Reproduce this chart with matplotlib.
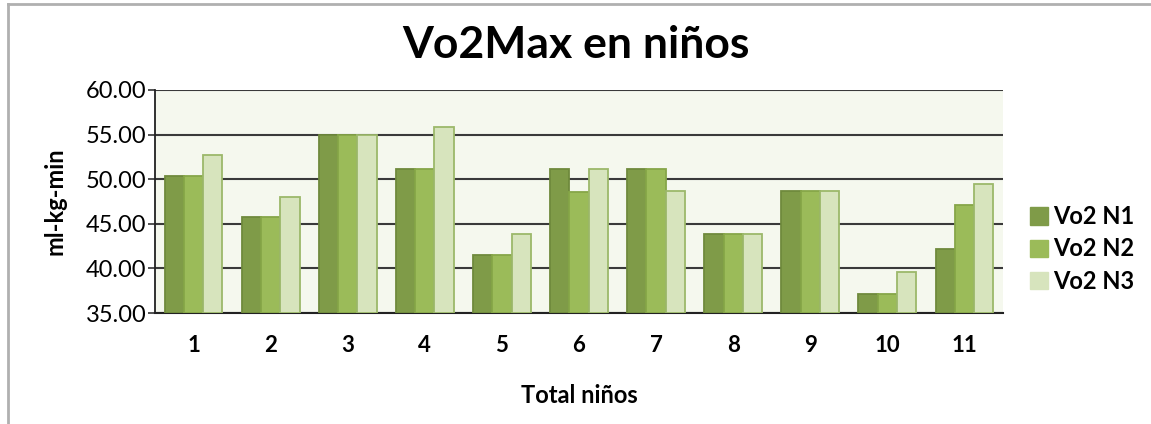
import numpy as np
import matplotlib.pyplot as plt
from matplotlib.patches import Patch
from matplotlib.lines import Line2D

plt.rcParams['font.family'] = ['Lato', 'DejaVu Sans']

# Datos
ninos = ['1', '2', '3', '4', '5', '6', '7', '8', '9', '10', '11']
vo2_n1 = [50.36, 45.73, 55.0, 51.1, 41.5, 51.1, 51.1, 43.86, 48.68, 37.17, 42.14]
vo2_n2 = [50.36, 45.73, 55.0, 51.1, 41.5, 48.6, 51.1, 43.86, 48.68, 37.17, 47.1]
vo2_n3 = [52.67, 47.97, 55.0, 55.9, 43.86, 51.1, 48.68, 43.86, 48.68, 39.56, 49.46]
series = ['Vo2 N1', 'Vo2 N2', 'Vo2 N3']

colores = ['#7F9B48', '#9BBB59', '#D7E4BD']
bordes = ['#6F8A3C', '#86A648', '#9CB86A']

fig = plt.figure(figsize=(11.51, 4.24), dpi=100)
ax = fig.add_axes([155 / 1151, 1 - 313 / 424, 848 / 1151, 223 / 424])
ax.set_facecolor('#F5F8EE')

x = np.arange(len(ninos))
w = 0.25
for i, vals in enumerate([vo2_n1, vo2_n2, vo2_n3]):
    ax.bar(x + (i - 1) * w, np.array(vals) - 35, width=w, bottom=35,
           color=colores[i], edgecolor=bordes[i], linewidth=1.3, zorder=3,
           label=series[i])

ax.set_xlim(-0.5, len(ninos) - 0.5)
ax.set_ylim(35, 60)
ax.set_yticks([35, 40, 45, 50, 55, 60])
ax.set_yticklabels(['%.2f' % v for v in [35, 40, 45, 50, 55, 60]], fontsize=17)
ax.set_xticks(x)
ax.set_xticklabels(ninos, fontsize=16, fontweight='bold')
ax.tick_params(axis='x', length=0, pad=16)
ax.tick_params(axis='y', length=5, width=1.2, color='#333333', pad=1)
ax.yaxis.grid(True, color='#3A3A3A', linewidth=1.5, zorder=1)
for s in ['top', 'right']:
    ax.spines[s].set_visible(False)
ax.spines['left'].set_color('#222222')
ax.spines['left'].set_linewidth(1.3)
ax.spines['bottom'].set_color('#222222')
ax.spines['bottom'].set_linewidth(1.5)

ax.set_ylabel('ml-kg-min', fontsize=17, fontweight='bold', labelpad=14)
ax.set_xlabel('Total niños', fontsize=17, fontweight='bold', labelpad=20)
fig.text(0.5, 1 - 45 / 424, 'Vo2Max en niños', ha='center', va='center',
         fontsize=32, fontweight='bold')

handles = [Patch(facecolor=colores[i], edgecolor=colores[i]) for i in range(3)]
fig.legend(handles, series, loc='center left',
           bbox_to_anchor=(1030 / 1151, 1 - 249 / 424), frameon=False,
           borderpad=0, borderaxespad=0,
           prop={'size': 17, 'weight': 'bold'}, handlelength=0.76,
           handleheight=0.76, handletextpad=0.2, labelspacing=0.4)

# marco exterior
fig.add_artist(Line2D([8 / 1151, 8 / 1151], [0, 1 - 4 / 424], color='#B0B0B0', linewidth=2))
fig.add_artist(Line2D([8 / 1151, 1], [1 - 4 / 424, 1 - 4 / 424], color='#B0B0B0', linewidth=2))

fig.savefig('out.png', dpi=100)
